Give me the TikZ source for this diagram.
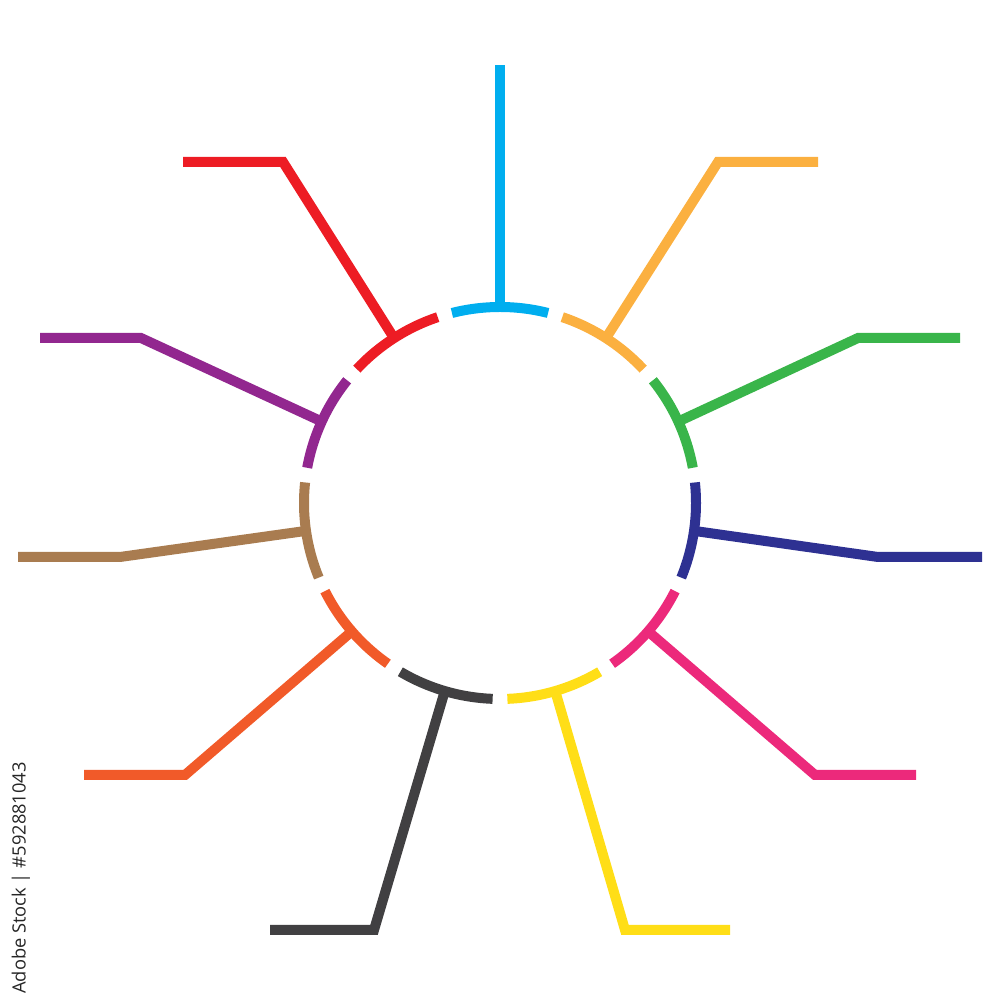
\documentclass[tikz,border=0pt]{standalone}
\usepackage{fontspec}
\usetikzlibrary{calc}
\newfontfamily\idfont{Open Sans}
\definecolor{cBlue}{HTML}{00AEEF}
\definecolor{cOrange}{HTML}{FBB040}
\definecolor{cGreen}{HTML}{39B54A}
\definecolor{cNavy}{HTML}{2E3192}
\definecolor{cPink}{HTML}{EC297B}
\definecolor{cYellow}{HTML}{FFDE17}
\definecolor{cBlack}{HTML}{414042}
\definecolor{cOrRed}{HTML}{F15A29}
\definecolor{cBrown}{HTML}{A97C50}
\definecolor{cPurple}{HTML}{92278F}
\definecolor{cRed}{HTML}{ED1C24}
\begin{document}
\begin{tikzpicture}[x=1pt,y=1pt,
  seg/.style={line width=10pt, line cap=butt, line join=miter},
  idtext/.style={rotate=90, anchor=east, inner sep=0pt, text=black!85, font=\idfont\fontsize{18.3}{22}\selectfont}]
\useasboundingbox (0,0) rectangle (1000,1000);
\coordinate (c) at (500,497);
% angle / colour / elbow x / elbow y / end x
\foreach \a/\col/\ex/\ey/\fx [count=\i] in {
   57.27/cOrange/718/838/818,
   24.55/cGreen/858/662/960,
   -8.18/cNavy/878/443/982,
  -40.91/cPink/815/225/916,
  -73.64/cYellow/625/70/730,
  253.64/cBlack/374/70/270,
  220.91/cOrRed/185/225/84,
  188.18/cBrown/120/443/18,
  155.45/cPurple/141/662/40,
  122.73/cRed/283/838/183}{
  \coordinate (s\i) at ($(c)+(\a:196)$);
  \coordinate (e\i) at (\ex,\ey);
  \coordinate (f\i) at (\fx,\ey);
  \draw[seg, \col] ($(c)+(\a-14.2:196)$) arc[start angle=\a-14.2, end angle=\a+14.2, radius=196];
  \draw[seg, \col] (s\i) -- (e\i) -- (f\i);
}
% blue (top)
\coordinate (sb) at ($(c)+(90:196)$);
\coordinate (eb) at (500,935);
\draw[seg, cBlue] ($(c)+(75.8:196)$) arc[start angle=75.8, end angle=104.2, radius=196];
\draw[seg, cBlue] (sb) -- (eb);
\node[idtext] (id) at (21,238) {Adobe Stock | \#592881043};
\end{tikzpicture}
\end{document}
